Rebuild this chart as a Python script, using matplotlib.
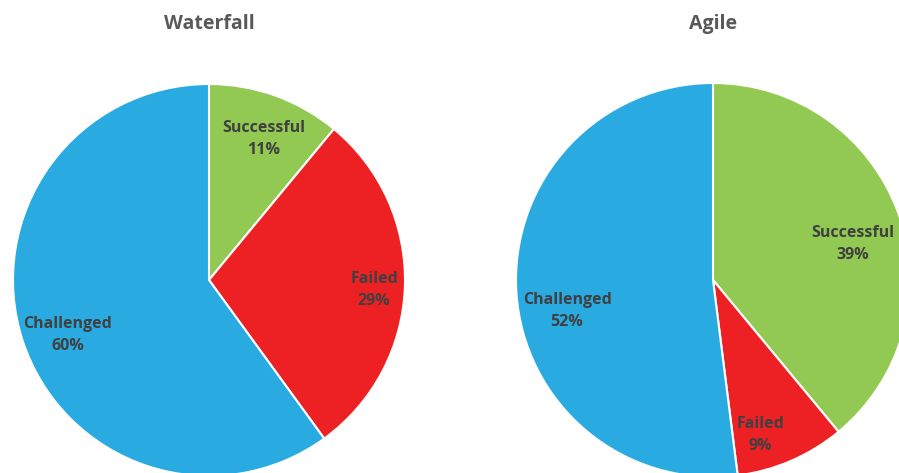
import matplotlib

matplotlib.use("Agg")
import matplotlib.pyplot as plt

W, H = 899, 473

categories = ["Successful", "Failed", "Challenged"]
waterfall = [11, 29, 60]
agile = [39, 9, 52]

colors = ["#92C953", "#ED2024", "#29ABE2"]
title_color = "#595959"
label_color = "#404040"

# pie centres / radius in pixels, label offsets from the centre (px, y down)
panels = [
    ("Waterfall", waterfall, (209, 280), 196, [(55, -141), (165, 10), (-141, 55)]),
    ("Agile", agile, (713, 280), 197, [(140, -36), (47, 155), (-146, 31)]),
]

plt.rcParams["font.family"] = ["Open Sans", "DejaVu Sans"]

fig = plt.figure(figsize=(W / 100, H / 100), dpi=100)
ax = fig.add_axes([0, 0, 1, 1])

for title, values, (cx, cy), r, offsets in panels:
    ax.pie(
        values,
        colors=colors,
        startangle=90,
        counterclock=False,
        center=(cx, H - cy),
        radius=r,
        wedgeprops=dict(edgecolor="white", linewidth=1.5),
        frame=True,
    )
    for name, v, (dx, dy) in zip(categories, values, offsets):
        ax.text(cx + dx, H - (cy + dy), f"{name}\n{v}%", ha="center", va="center",
                fontsize=11.5, fontweight="bold", color=label_color, linespacing=1.45)
    ax.text(cx, H - 24, title, ha="center", va="center", fontsize=14,
            fontweight="bold", color=title_color)

ax.set_xlim(0, W)
ax.set_ylim(0, H)
ax.set_aspect("equal")
ax.axis("off")

fig.savefig("out.png", dpi=100)
